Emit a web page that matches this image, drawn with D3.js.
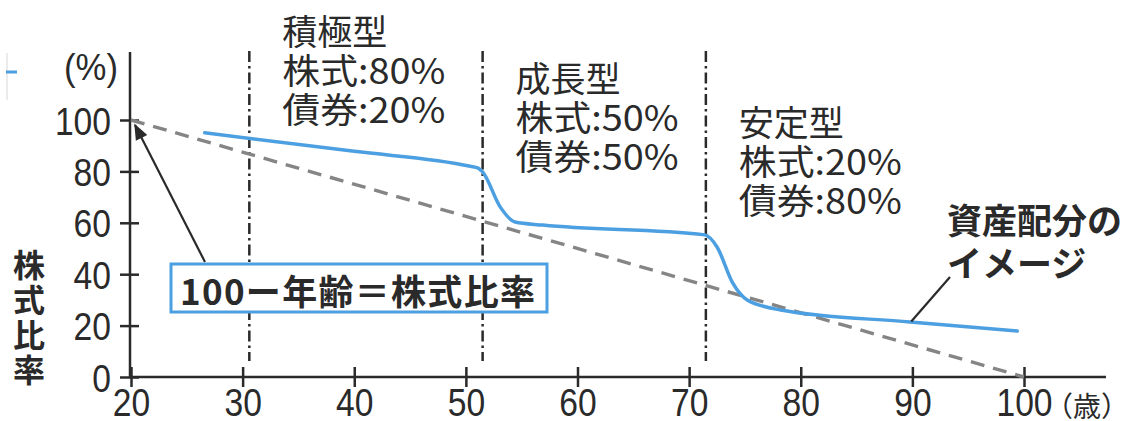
<!DOCTYPE html>
<html><head><meta charset="utf-8">
<script src="https://cdn.jsdelivr.net/npm/d3@7"></script>
<style>body{margin:0;background:#fff}svg{display:block}</style>
</head><body><svg id="c" width="1131" height="421"></svg>
<script>
// ---- data ----
const xTicks = [20, 30, 40, 50, 60, 70, 80, 90, 100];
const yTicks = [0, 20, 40, 60, 80, 100];
const ruleAges = [20, 100];          // 100 - age = stock ratio
const ruleStock = [100, 0];
const allocAges  = [26.6, 40, 50.4, 51.1, 51.5, 53.1, 54.4, 56.9, 71.4, 72.5, 73.9, 75.2, 78.2, 89.8, 99.4];
const allocStock = [95, 87.8, 82, 81.3, 79.8, 66, 60.3, 59.1, 55.3, 50.6, 36.6, 30, 26.1, 21.4, 17.9];
const boundaries = [30.6, 51.5, 71.5];
const regionNames = ["積極型", "成長型", "安定型"];
const regionStock = ["株式:80%", "株式:50%", "株式:20%"];
const regionBond  = ["債券:20%", "債券:50%", "債券:80%"];
const ruleLabel = "100ー年齢＝株式比率";
const imageLabel = ["資産配分の", "イメージ"];
const yTitle = ["株", "式", "比", "率"];

// ---- setup ----
const svg = d3.select("#c");
const NUM = "'Liberation Sans',Arial,sans-serif";
const JP = "'Noto Sans CJK JP','Noto Sans CJK SC',sans-serif";
const INK = "#2a2a2a", BLUE = "#4c9fe0", GRAY = "#858585";
const DIGIT_W = 18.7;

const x = d3.scaleLinear().domain([20, 100]).range([131, 1024]);
const y = d3.scaleLinear().domain([0, 100]).range([377, 120]);

// stray legend remnant at top-left
svg.append("line").attr("x1", 7).attr("x2", 7).attr("y1", 53).attr("y2", 100)
  .attr("stroke", "#e4e4e4").attr("stroke-width", 1.5);
svg.append("line").attr("x1", 6).attr("x2", 17).attr("y1", 72).attr("y2", 72)
  .attr("stroke", BLUE).attr("stroke-width", 3);

// vertical dash-dot boundaries
svg.append("g").selectAll("line").data(boundaries).join("line")
  .attr("x1", d => x(d)).attr("x2", d => x(d))
  .attr("y1", 51).attr("y2", 361)
  .attr("stroke", INK).attr("stroke-width", 2.5)
  .attr("stroke-dasharray", "11,4,2.5,4");

// axes
const xAxis = svg.append("g").attr("transform", `translate(0,${y(0)})`)
  .call(d3.axisBottom(x).tickValues(xTicks).tickSize(10).tickFormat(d3.format("d")));
xAxis.select(".domain").remove();
xAxis.selectAll(".tick line").attr("y1", -10).attr("y2", 10).attr("stroke", INK).attr("stroke-width", 2.5);
xAxis.selectAll(".tick text").attr("y", 39).attr("dy", null)
  .attr("font-family", NUM).attr("font-size", 38).attr("fill", INK)
  .attr("textLength", d => String(d).length * DIGIT_W).attr("lengthAdjust", "spacingAndGlyphs");
svg.append("line").attr("x1", 129).attr("x2", 1106).attr("y1", y(0)).attr("y2", y(0))
  .attr("stroke", INK).attr("stroke-width", 2.5);

const yAxis = svg.append("g").attr("transform", `translate(130,0)`)
  .call(d3.axisLeft(y).tickValues(yTicks).tickSize(10));
yAxis.select(".domain").remove();
yAxis.selectAll(".tick line").attr("x1", -10).attr("x2", 9).attr("stroke", INK).attr("stroke-width", 2.5);
yAxis.selectAll(".tick text").attr("x", -19).attr("dy", "0.36em")
  .attr("font-family", NUM).attr("font-size", 39).attr("fill", INK)
  .attr("textLength", d => String(d).length * DIGIT_W).attr("lengthAdjust", "spacingAndGlyphs");
svg.append("line").attr("x1", 130).attr("x2", 130).attr("y1", 52).attr("y2", y(0) + 1)
  .attr("stroke", INK).attr("stroke-width", 2.5);

svg.append("text").attr("x", 118).attr("y", 67).attr("dy", "0.36em").attr("text-anchor", "end")
  .attr("font-family", NUM).attr("font-size", 36).attr("fill", INK)
  .attr("textLength", 54).attr("lengthAdjust", "spacingAndGlyphs").text("(%)");
svg.append("text").attr("x", 1045).attr("y", 405).attr("dominant-baseline", "central")
  .attr("font-family", JP).attr("font-size", 28).attr("fill", INK).text("（歳）");

// y title vertical
svg.append("g").selectAll("text").data(yTitle).join("text")
  .attr("font-family", JP).attr("font-weight", 700).attr("font-size", 32).attr("fill", INK)
  .attr("text-anchor", "middle")
  .attr("x", 29).attr("y", (d, i) => 263 + i * 35).attr("dominant-baseline", "central").text(d => d);

// dashed rule line
const ruleData = ruleAges.map((a, i) => [a, ruleStock[i]]);
svg.append("path").datum(ruleData)
  .attr("d", d3.line().x(d => x(d[0])).y(d => y(d[1])))
  .attr("fill", "none").attr("stroke", GRAY).attr("stroke-width", 3.4)
  .attr("stroke-dasharray", "14,9");

// allocation curve
const allocData = allocAges.map((a, i) => [a, allocStock[i]]);
svg.append("path").datum(allocData)
  .attr("d", d3.line().x(d => x(d[0])).y(d => y(d[1])).curve(d3.curveMonotoneX))
  .attr("fill", "none").attr("stroke", BLUE).attr("stroke-width", 3.5)
  .attr("stroke-linecap", "round");

// region labels
const regionTop = [29, 76, 120];
const rg = svg.append("g").attr("font-family", JP).attr("font-size", 35).attr("fill", INK);
regionNames.forEach((nm, i) => {
  const lx = x(boundaries[i]) + 33;
  [nm, regionStock[i], regionBond[i]].forEach((t, j) => {
    const tx = rg.append("text").attr("x", lx).attr("y", regionTop[i] + j * 39)
      .attr("dominant-baseline", "central").text(t);
    if (j > 0) tx.attr("textLength", 163).attr("lengthAdjust", "spacingAndGlyphs");
  });
});

// arrow from box to (20,100)
svg.append("defs").append("marker").attr("id", "ah")
  .attr("viewBox", "0 0 10 10").attr("refX", 9).attr("refY", 5)
  .attr("orient", "auto")
  .attr("markerUnits", "userSpaceOnUse").attr("markerWidth", 18).attr("markerHeight", 16)
  .append("path").attr("d", "M0,1 L10,5 L0,9 Z").attr("fill", INK);
svg.append("line").attr("x1", 205).attr("y1", 262).attr("x2", x(20) + 4).attr("y2", y(100) + 5)
  .attr("stroke", INK).attr("stroke-width", 2.2).attr("marker-end", "url(#ah)");

// rule box
svg.append("rect").attr("x", 171).attr("y", 264).attr("width", 376).attr("height", 48)
  .attr("fill", "#fff").attr("stroke", BLUE).attr("stroke-width", 3);
svg.append("text").attr("x", 180).attr("y", 289).attr("dominant-baseline", "central")
  .attr("font-family", JP).attr("font-weight", 700).attr("font-size", 35).attr("fill", INK)
  .attr("textLength", 355).attr("lengthAdjust", "spacing").text(ruleLabel);

// image callout
svg.append("line").attr("x1", x(89.9)).attr("y1", y(21.6)).attr("x2", 950).attr("y2", 277)
  .attr("stroke", INK).attr("stroke-width", 2.2);
imageLabel.forEach((t, i) => {
  svg.append("text").attr("x", 947).attr("y", 218 + i * 43).attr("dominant-baseline", "central")
    .attr("font-family", JP).attr("font-weight", 700).attr("font-size", 35).attr("fill", INK).text(t);
});
</script></body></html>
